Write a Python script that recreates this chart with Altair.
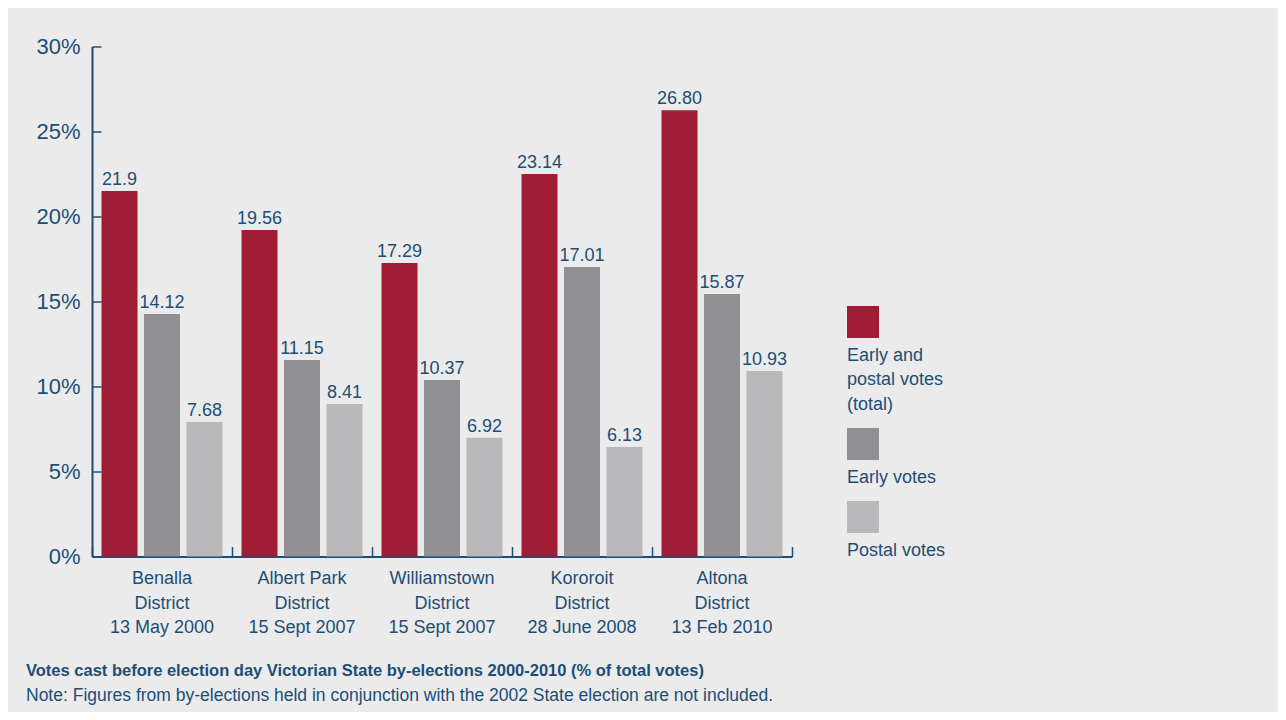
import altair as alt
import pandas as pd

# ---- data ----
districts = ["Benalla District", "Albert Park District", "Williamstown District",
             "Kororoit District", "Altona District"]
dates = ["13 May 2000", "15 Sept 2007", "15 Sept 2007", "28 June 2008", "13 Feb 2010"]
series = ["Early and postal votes (total)", "Early votes", "Postal votes"]

# value labels printed above the bars
total_labels = ["21.9", "19.56", "17.29", "23.14", "26.80"]
early_labels = ["14.12", "11.15", "10.37", "17.01", "15.87"]
postal_labels = ["7.68", "8.41", "6.92", "6.13", "10.93"]

# bar heights as drawn in the reference (% of total votes)
total_heights = [21.5, 19.2, 17.26, 22.5, 26.25]
early_heights = [14.26, 11.56, 10.38, 17.03, 15.44]
postal_heights = [7.91, 8.97, 6.99, 6.44, 10.91]

y_ticks = [0, 5, 10, 15, 20, 25, 30]

title_text = "Votes cast before election day Victorian State by-elections 2000-2010 (% of total votes)"
note_text = "Note: Figures from by-elections held in conjunction with the 2002 State election are not included."

# ---- styles ----
FONT = "Liberation Sans, Arial, sans-serif"
NAVY = "#1c4e78"
BG = "#ebebeb"
colors = ["#a01c35", "#908f94", "#b9b9bb"]

cats = [d.replace(" District", "\nDistrict") + "\n" + dt for d, dt in zip(districts, dates)]
rows = []
for i, c in enumerate(cats):
    for s, h, lab in zip(series,
                         [total_heights[i], early_heights[i], postal_heights[i]],
                         [total_labels[i], early_labels[i], postal_labels[i]]):
        rows.append({"district": c, "series": s, "height": h, "label": lab})
df = pd.DataFrame(rows)

x_scale = alt.Scale(paddingInner=0, paddingOuter=0)
xo_scale = alt.Scale(paddingInner=0.153, paddingOuter=0.224)
y_scale = alt.Scale(domain=[0, 30], nice=False)

legend_expr = ("datum.label == 'Early and postal votes (total)' ? "
               "['', 'Early and', 'postal votes', '(total)'] : ['', datum.label]")

bars = alt.Chart(df).mark_bar().encode(
    x=alt.X("district:N", sort=cats, scale=x_scale,
            axis=alt.Axis(orient="bottom", title=None, labelAngle=0, ticks=False,
                          domainColor=NAVY, domainWidth=2,
                          labelExpr="split(datum.label, '\\n')",
                          labelFont=FONT, labelFontSize=18, labelColor=NAVY,
                          labelLineHeight=24.5, labelPadding=13, labelBaseline="top",
                          labelLimit=300)),
    xOffset=alt.XOffset("series:N", sort=series, scale=xo_scale),
    y=alt.Y("height:Q", scale=y_scale,
            axis=alt.Axis(orient="left", title=None, values=y_ticks, ticks=False,
                          grid=False, domainColor=NAVY, domainWidth=2,
                          labelExpr="datum.value + '%'",
                          labelFont=FONT, labelFontSize=22, labelColor=NAVY,
                          labelPadding=12)),
    color=alt.Color("series:N", sort=series,
                    scale=alt.Scale(domain=series, range=colors),
                    legend=alt.Legend(orient="none", legendX=755, legendY=259.5,
                                      direction="vertical", title=None,
                                      symbolType="square", symbolSize=1024,
                                      symbolStrokeWidth=0, symbolOpacity=1,
                                      labelOffset={"expr": "-32"}, labelFont=FONT,
                                      labelFontSize=18, labelColor=NAVY,
                                      labelBaseline="top",
                                      labelLimit=400, rowPadding=14, padding=0,
                                      labelExpr=legend_expr)),
)

labels = alt.Chart(df).mark_text(baseline="bottom", dy=-2, font=FONT,
                                 fontSize=18, color=NAVY).encode(
    x=alt.X("district:N", sort=cats, scale=x_scale,
            axis=alt.Axis(orient="top", offset=-510, title=None, labels=False,
                          domain=False, ticks=True, tickBand="extent",
                          tickSize=10, tickColor=NAVY, tickWidth=1.5)),
    xOffset=alt.XOffset("series:N", sort=series, scale=xo_scale),
    y=alt.Y("height:Q", scale=y_scale,
            axis=alt.Axis(orient="right", offset=-700, title=None, labels=False,
                          domain=False, grid=False, values=y_ticks, ticks=True,
                          tickSize=9, tickColor=NAVY, tickWidth=1.5)),
    text="label:N",
)

chart = alt.layer(bars, labels).resolve_axis(x="independent", y="independent").properties(
    width=700, height=510,
    autosize=alt.AutoSizeParams(type="none"),
    padding={"left": 84, "top": 38.5, "right": 486, "bottom": 155.5},
    background=BG,
    title=alt.TitleParams(text=title_text, subtitle=note_text, orient="bottom",
                          anchor="start", frame="group", dx=-66, offset=26,
                          font=FONT, fontSize=16.5, fontWeight="bold", color=NAVY,
                          subtitleFont=FONT, subtitleFontSize=17.5,
                          subtitleColor=NAVY, subtitlePadding=8),
).configure(
    view=alt.ViewConfig(stroke=None),
    style={"guide-label": {"lineHeight": 24.5}},
)

chart.save("out.html", embed_options={"renderer": "svg", "actions": False})
